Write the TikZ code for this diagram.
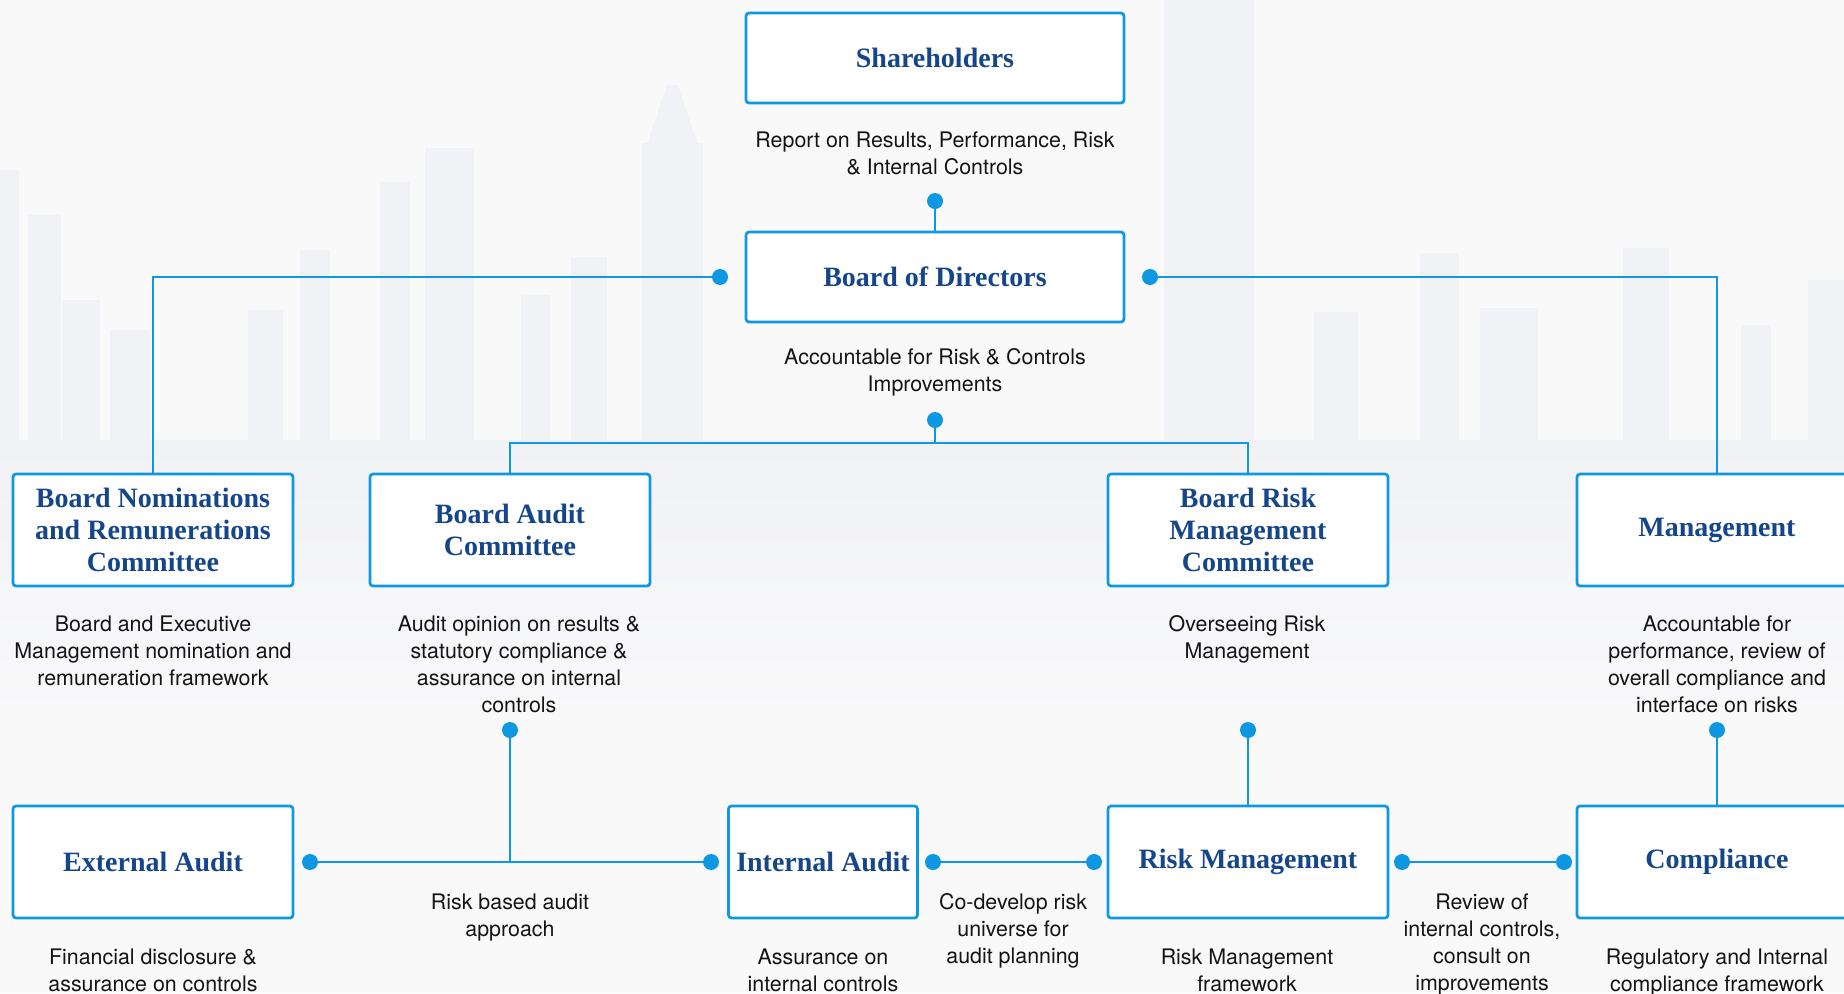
\documentclass[tikz,border=0pt]{standalone}
\usepackage{fontspec}
\setmainfont{TeX Gyre Heros}
\newfontfamily\TitleFont{Liberation Serif}
\usetikzlibrary{calc}
\xdef\LWS{1.35pt}
\definecolor{ColorLine}{RGB}{14,152,228}
\definecolor{ColorTitle}{RGB}{22,70,138}
\definecolor{ColorBg}{RGB}{249,249,250}
\definecolor{ColorSky}{RGB}{241,242,245}
\definecolor{ColorText}{RGB}{20,20,20}

\begin{document}
\begin{tikzpicture}[x=0.5pt,y=-0.5pt,
  box/.style={draw=ColorLine,line width=\LWS,fill=white,rounded corners=1.5pt,inner sep=0,align=center,
    text=ColorTitle,font=\TitleFont\bfseries\fontsize{14}{16}\selectfont,minimum width=140pt,minimum height=56pt},
  widebox/.style={box,minimum width=189pt,minimum height=45pt},
  note/.style={anchor=north,inner sep=0,align=center,text=ColorText,font=\fontsize{10.7}{13.5}\selectfont},
  bluedot/.style={circle,fill=ColorLine,inner sep=0,minimum size=8pt},
  link/.style={draw=ColorLine,line width=\LWS}]
\useasboundingbox (0,0) rectangle (1844,993);
% faded skyline
\fill[ColorBg] (0,0) rectangle (1844,993);
\shade[top color=ColorSky,bottom color=ColorBg] (0,440) rectangle (1844,720);
\foreach \xa/\xb/\yt in {0/19/170,28/61/215,62/100/300,110/150/330,248/283/310,300/330/250,380/410/182,425/474/148,521/550/295,571/607/257,642/703/143,1164/1254/0,1314/1358/312,1420/1459/253,1480/1538/308,1623/1669/248,1741/1771/325,1808/1844/280}
  \fill[ColorSky] (\xa,\yt) rectangle (\xb,440);
\fill[ColorSky] (667,85)--(678,85)--(703,160)--(642,160)--cycle;

% boxes
\node[widebox] (sh) at (935,58) {Shareholders};
\node[widebox] (bod) at (935,277) {Board of Directors};
\node[box] (bnrc) at (153,530) {Board Nominations\\and Remunerations\\Committee};
\node[box] (bac) at (510,530) {Board Audit\\Committee};
\node[box] (brmc) at (1248,530) {Board Risk\\Management\\Committee};
\node[box] (mgmt) at (1717,530) {Management};
\node[box] (ext) at (153,862) {External Audit};
\node[box,minimum width=94.5pt] (int) at (823,862) {Internal Audit};
\node[box] (risk) at (1248,862) {Risk Management};
\node[box] (comp) at (1717,862) {Compliance};

% texts
\node[note] (tSh) at (935,131) {Report on Results, Performance, Risk\\\& Internal Controls};
\node[note] (tBod) at (935,348) {Accountable for Risk \& Controls\\Improvements};
\node[note] (tBnrc) at (153,615) {Board and Executive\\Management nomination and\\remuneration framework};
\node[note] (tBac) at (519,615) {Audit opinion on results \&\\statutory compliance \&\\assurance on internal\\controls};
\node[note] (tBrmc) at (1247,615) {Overseeing Risk\\Management};
\node[note] (tMgmt) at (1717,615) {Accountable for\\performance, review of\\overall compliance and\\interface on risks};
\node[note] (tExtInt) at (510,893) {Risk based audit\\approach};
\node[note] (tIntRisk) at (1013,893) {Co-develop risk\\universe for\\audit planning};
\node[note] (tRiskComp) at (1482,893) {Review of\\internal controls,\\consult on\\improvements};
\node[note] (tExt) at (153,948) {Financial disclosure \&\\assurance on controls};
\node[note] (tInt) at (823,948) {Assurance on\\internal controls};
\node[note] (tRisk) at (1247,948) {Risk Management\\framework};
\node[note] (tComp) at (1717,948) {Regulatory and Internal\\compliance framework};

% dots
\node[bluedot] (dSh) at (935,201) {};
\node[bluedot] (dBodL) at (720,277) {};
\node[bluedot] (dBodR) at (1150,277) {};
\node[bluedot] (dAcc) at (935,420) {};
\node[bluedot] (dBac) at (510,730) {};
\node[bluedot] (dBrmc) at (1248,730) {};
\node[bluedot] (dMgmt) at (1717,730) {};
\node[bluedot] (dExt) at (310,862) {};
\node[bluedot] (dIntL) at (711,862) {};
\node[bluedot] (dIntR) at (933,862) {};
\node[bluedot] (dRiskL) at (1094,862) {};
\node[bluedot] (dRiskR) at (1402,862) {};
\node[bluedot] (dComp) at (1564,862) {};
\coordinate (jAcc) at (935,443);

% connectors
\draw[link] (dSh) -- (bod.north);
\draw[link] (dBodL) -| (bnrc.north);
\draw[link] (dBodR) -| (mgmt.north);
\draw[link] (dAcc) -- (jAcc);
\draw[link] (bac.north) |- (jAcc) -| (brmc.north);
\draw[link] (dBac) -- (dBac |- dExt);
\draw[link] (dExt) -- (dIntL);
\draw[link] (dIntR) -- (dRiskL);
\draw[link] (dRiskR) -- (dComp);
\draw[link] (dBrmc) -- (risk.north);
\draw[link] (dMgmt) -- (comp.north);
\end{tikzpicture}
\end{document}
